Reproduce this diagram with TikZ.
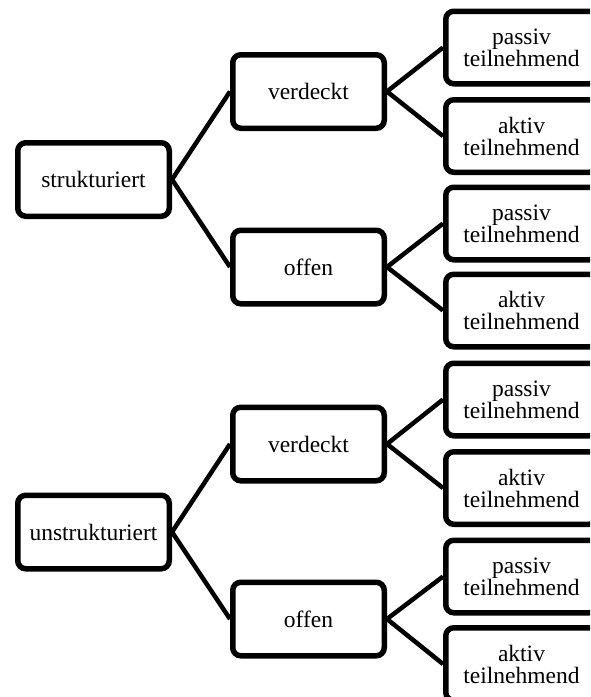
\documentclass[tikz,border=0pt]{standalone}
\usepackage{fontspec}
\setmainfont{Liberation Serif}
\begin{document}
\begin{tikzpicture}[x=1pt,y=-1pt,
  box/.style={draw=black, line width=5.5pt, rounded corners=8pt, fill=white,
    minimum width=151.5pt, minimum height=73.5pt, inner sep=0pt, align=center,
    font=\fontsize{23.5}{22}\selectfont},
  leaf/.style={box, minimum height=72.5pt},
  conn/.style={line width=4.5pt}]
\useasboundingbox (0,0) rectangle (590,697);
\clip (0,0) rectangle (590,697);
% top tree
\node[box] (s1) at (93.5,179.5) {strukturiert};
\node[box] (v1) at (308.5,91.5) {verdeckt};
\node[box] (o1) at (308.5,267) {offen};
\node[leaf] (p1) at (521.5,47.5) {passiv\\teilnehmend};
\node[leaf] (a1) at (521.5,136) {aktiv\\teilnehmend};
\node[leaf] (p2) at (521.5,223.5) {passiv\\teilnehmend};
\node[leaf] (a2) at (521.5,310.5) {aktiv\\teilnehmend};
% bottom tree
\node[box] (s2) at (93.5,532) {unstrukturiert};
\node[box] (v2) at (308.5,444) {verdeckt};
\node[box] (o2) at (308.5,619) {offen};
\node[leaf] (p3) at (521.5,399.5) {passiv\\teilnehmend};
\node[leaf] (a3) at (521.5,488) {aktiv\\teilnehmend};
\node[leaf] (p4) at (521.5,576.5) {passiv\\teilnehmend};
\node[leaf] (a4) at (521.5,664) {aktiv\\teilnehmend};
% connectors
\draw[conn] (s1.east) -- (v1.west);
\draw[conn] (s1.east) -- (o1.west);
\draw[conn] (v1.east) -- (p1.west);
\draw[conn] (v1.east) -- (a1.west);
\draw[conn] (o1.east) -- (p2.west);
\draw[conn] (o1.east) -- (a2.west);
\draw[conn] (s2.east) -- (v2.west);
\draw[conn] (s2.east) -- (o2.west);
\draw[conn] (v2.east) -- (p3.west);
\draw[conn] (v2.east) -- (a3.west);
\draw[conn] (o2.east) -- (p4.west);
\draw[conn] (o2.east) -- (a4.west);
\end{tikzpicture}
\end{document}
